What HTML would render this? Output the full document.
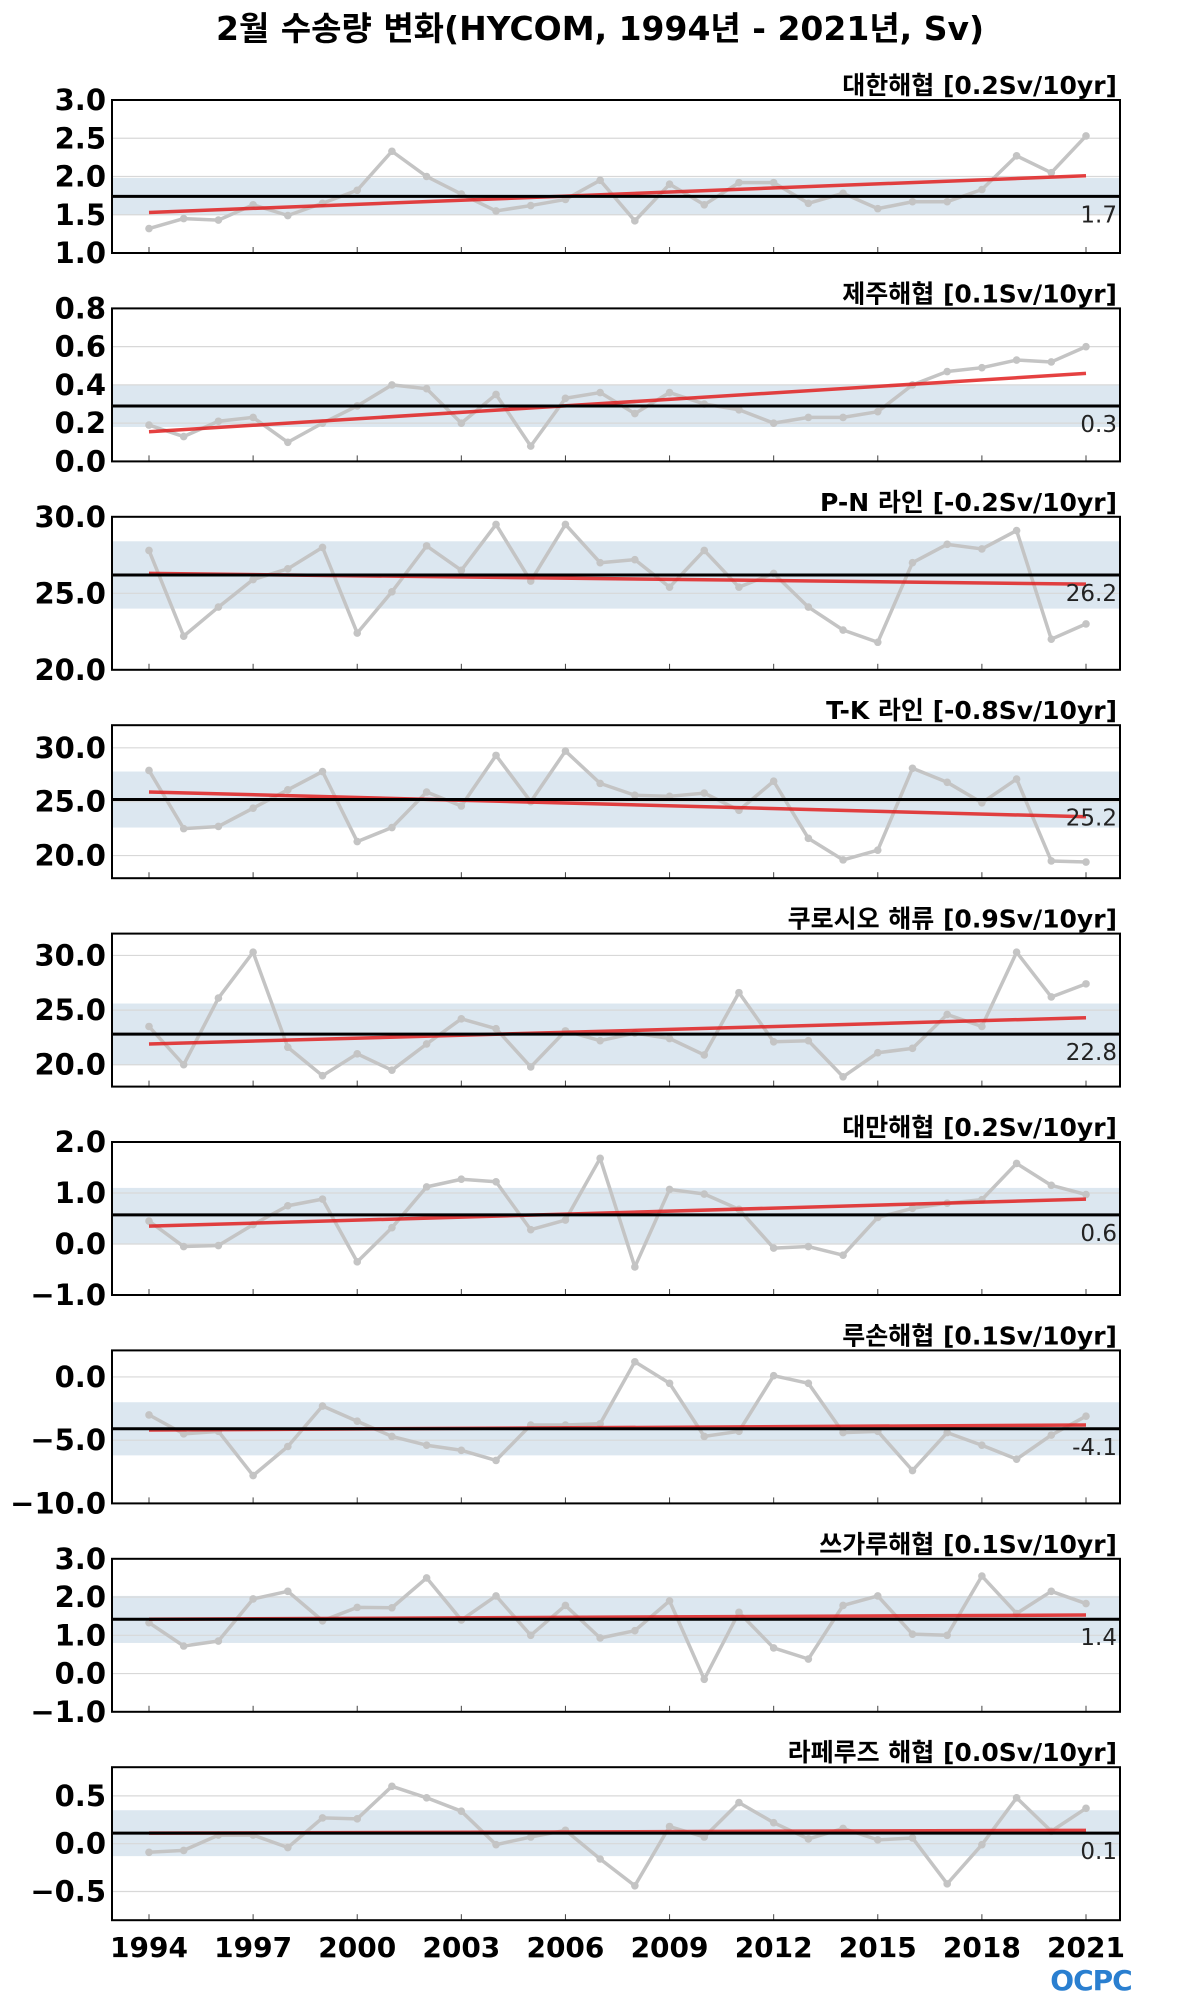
<!DOCTYPE html>
<html><head><meta charset="utf-8">
<style>
body{margin:0;background:#fff;width:1200px;height:2000px;overflow:hidden}
svg{display:block}
</style></head>
<body>
<svg id="chart" width="1200" height="2000" xmlns="http://www.w3.org/2000/svg">
<text x="600" y="40" text-anchor="middle" font-family="DejaVu Sans, Noto Sans CJK KR, sans-serif" font-weight="bold" font-size="33">2월 수송량 변화(HYCOM, 1994년 - 2021년, Sv)</text>
<text x="1091" y="1990" text-anchor="middle" font-family="DejaVu Sans, sans-serif" font-weight="bold" font-size="28" fill="#2a7fd0" letter-spacing="-1">OCPC</text>
</svg>
<script>
const years = [];
for (let y = 1994; y <= 2021; y++) years.push(y);
const xTickYears = [1994,1997,2000,2003,2006,2009,2012,2015,2018,2021];
const panelTitles = ['대한해협 [0.2Sv/10yr]','제주해협 [0.1Sv/10yr]','P-N 라인 [-0.2Sv/10yr]','T-K 라인 [-0.8Sv/10yr]','쿠로시오 해류 [0.9Sv/10yr]','대만해협 [0.2Sv/10yr]','루손해협 [0.1Sv/10yr]','쓰가루해협 [0.1Sv/10yr]','라페루즈 해협 [0.0Sv/10yr]'];
const yMins = [1.0, 0.0, 20, 17.9, 18, -1, -10, -1, -0.8];
const yMaxs = [3.0, 0.8, 30, 32.1, 32, 2, 2.1, 3, 0.8];
const yTicks = [[1.0,1.5,2.0,2.5,3.0],[0,0.2,0.4,0.6,0.8],[20,25,30],[20,25,30],[20,25,30],[-1,0,1,2],[-10,-5,0],[-1,0,1,2,3],[-0.5,0,0.5]];
const tickDecimals = [1,1,1,1,1,1,1,1,1];
const means = [1.74, 0.29, 26.2, 25.2, 22.8, 0.57, -4.1, 1.42, 0.11];
const meanLabels = ['1.7','0.3','26.2','25.2','22.8','0.6','-4.1','1.4','0.1'];
const bandLows = [1.5, 0.18, 24.0, 22.6, 20.0, 0.0, -6.2, 0.8, -0.13];
const bandHighs = [1.98, 0.40, 28.4, 27.8, 25.6, 1.1, -2.0, 2.03, 0.35];
const trendStarts = [1.53, 0.155, 26.3, 25.9, 21.9, 0.35, -4.2, 1.42, 0.11];
const trendEnds = [2.01, 0.46, 25.6, 23.6, 24.3, 0.88, -3.8, 1.53, 0.14];
const s1 = [1.32,1.45,1.43,1.63,1.49,1.65,1.82,2.33,2.0,1.77,1.55,1.62,1.70,1.95,1.42,1.90,1.63,1.92,1.92,1.65,1.78,1.58,1.67,1.67,1.83,2.27,2.05,2.53];
const s2 = [0.19,0.13,0.21,0.23,0.10,0.20,0.29,0.40,0.38,0.20,0.35,0.08,0.33,0.36,0.25,0.36,0.30,0.27,0.20,0.23,0.23,0.26,0.40,0.47,0.49,0.53,0.52,0.60];
const s3 = [27.8,22.2,24.1,25.9,26.6,28.0,22.4,25.1,28.1,26.5,29.5,25.8,29.5,27.0,27.2,25.4,27.8,25.4,26.3,24.1,22.6,21.8,27.0,28.2,27.9,29.1,22.0,23.0];
const s4 = [27.9,22.5,22.7,24.4,26.1,27.8,21.3,22.6,25.9,24.6,29.3,25.0,29.7,26.7,25.6,25.5,25.8,24.2,26.9,21.6,19.6,20.5,28.1,26.8,24.9,27.1,19.5,19.4];
const s5 = [23.5,20.0,26.1,30.3,21.6,19.0,21.0,19.5,21.9,24.2,23.3,19.8,23.1,22.2,22.9,22.4,20.9,26.6,22.1,22.2,18.9,21.1,21.5,24.6,23.5,30.3,26.2,27.4];
const s6 = [0.45,-0.05,-0.03,0.38,0.75,0.88,-0.35,0.32,1.12,1.27,1.22,0.28,0.47,1.68,-0.45,1.07,0.98,0.68,-0.08,-0.05,-0.22,0.52,0.70,0.80,0.87,1.58,1.15,0.97];
const s7 = [-3.0,-4.5,-4.3,-7.8,-5.5,-2.3,-3.5,-4.7,-5.4,-5.8,-6.6,-3.8,-3.8,-3.7,1.2,-0.5,-4.7,-4.3,0.1,-0.5,-4.4,-4.3,-7.4,-4.4,-5.4,-6.5,-4.6,-3.1];
const s8 = [1.33,0.72,0.85,1.95,2.15,1.38,1.73,1.72,2.5,1.40,2.03,1.00,1.78,0.93,1.12,1.90,-0.15,1.60,0.67,0.38,1.78,2.03,1.03,1.00,2.55,1.57,2.15,1.83];
const s9 = [-0.09,-0.07,0.09,0.09,-0.04,0.27,0.26,0.60,0.48,0.34,-0.01,0.07,0.14,-0.16,-0.44,0.18,0.07,0.43,0.22,0.05,0.16,0.04,0.06,-0.42,-0.01,0.48,0.13,0.37];
const series = [s1,s2,s3,s4,s5,s6,s7,s8,s9];

const NS = 'http://www.w3.org/2000/svg';
const svg = document.getElementById('chart');
const L = 112, R = 1120, PH = 153, TOP0 = 100, STEP = 208.4;
const FONT = 'DejaVu Sans, Noto Sans CJK KR, sans-serif';
function mk(tag, attrs, parent) {
  const e = document.createElementNS(NS, tag);
  for (const k in attrs) e.setAttribute(k, attrs[k]);
  (parent || svg).appendChild(e);
  return e;
}
function xScale(yr) { return 149 + (yr - 1994) * (1086 - 149) / 27; }
function fmt(v, d) { const s = v.toFixed(d); return v < 0 ? '\u2212' + s.slice(1) : s; }

series.forEach((data, i) => {
  const top = TOP0 + STEP * i, bot = top + PH;
  const yScale = v => bot - (v - yMins[i]) / (yMaxs[i] - yMins[i]) * PH;
  const g = mk('g', {});
  
  
  const band = mk('rect', {x: L, y: yScale(bandHighs[i]), width: R - L, height: yScale(bandLows[i]) - yScale(bandHighs[i]), fill: '#dce7f0'}, g);
  
  
  yTicks[i].forEach(t => {
    const yy = yScale(t);
    const gl = mk('line', {x1: L, x2: R, y1: yy, y2: yy, stroke: '#d8d8d8', 'stroke-width': 1.2}, g);
    
    
    const tl = mk('text', {x: L - 6, y: yy + 10, 'text-anchor': 'end', 'font-family': FONT, 'font-weight': 'bold', 'font-size': 29}, g);
    
    
    tl.textContent = fmt(t, tickDecimals[i]);
  });
  xTickYears.forEach(yr => {
    const xt = mk('line', {x1: xScale(yr), x2: xScale(yr), y1: bot, y2: bot - 6, stroke: '#444', 'stroke-width': 1}, g);
    
    
  });
  const pts = data.map((v, k) => xScale(years[k]) + ',' + yScale(v)).join(' ');
  const pl = mk('polyline', {points: pts, fill: 'none', stroke: '#c4c4c4', 'stroke-width': 3.5, 'stroke-linejoin': 'round'}, g);
  
  
  data.forEach((v, k) => {
    const c = mk('circle', {cx: xScale(years[k]), cy: yScale(v), r: 3.8, fill: '#c4c4c4'}, g);
    
    
  });
  const tr = mk('line', {x1: xScale(1994), x2: xScale(2021), y1: yScale(trendStarts[i]), y2: yScale(trendEnds[i]), stroke: '#e02020', 'stroke-opacity': 0.85, 'stroke-width': 3.5}, g);
  
  
  const ml = mk('line', {x1: L, x2: R, y1: yScale(means[i]), y2: yScale(means[i]), stroke: '#000', 'stroke-width': 3}, g);
  
  
  const mt = mk('text', {x: R - 3, y: yScale(means[i]) + 26, 'text-anchor': 'end', 'font-family': FONT, 'font-size': 23, fill: '#222'}, g);
  
  
  mt.textContent = meanLabels[i];
  const fr = mk('rect', {x: L, y: top, width: R - L, height: PH, fill: 'none', stroke: '#000', 'stroke-width': 2}, g);
  
  
  const pt = mk('text', {x: R - 3, y: top - 6, 'text-anchor': 'end', 'font-family': FONT, 'font-weight': 'bold', 'font-size': 25}, g);
  
  
  pt.textContent = panelTitles[i];
});
const lastBot = TOP0 + STEP * 8 + PH;
xTickYears.forEach(yr => {
  const t = mk('text', {x: xScale(yr), y: lastBot + 37, 'text-anchor': 'middle', 'font-family': FONT, 'font-weight': 'bold', 'font-size': 28});
  
  
  t.textContent = yr;
});
</script>
</body></html>
